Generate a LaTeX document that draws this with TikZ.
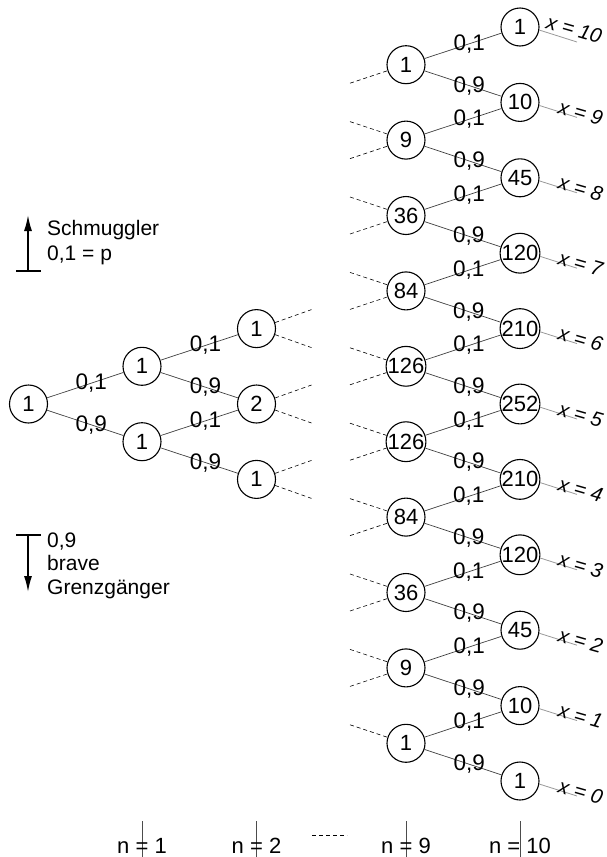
\documentclass[tikz,border=0pt]{standalone}
\usepackage{fontspec}
\setmainfont{Liberation Sans}
\usetikzlibrary{arrows.meta,calc}
\tikzset{
  knot/.style={circle,draw,line width=1.1pt,minimum size=38pt,inner sep=0pt,font=\fontsize{22}{26}\selectfont},
  edge/.style={draw=black!75,line width=0.7pt},
  lab/.style={pos=0.58,inner sep=0pt,font=\fontsize{22.5}{26}\selectfont},
  stub/.style={draw=black,line width=0.6pt,dash pattern=on 4pt off 3pt},
  tail/.style={draw=black!40,line width=0.8pt},
  xlab/.style={anchor=base west,rotate=-16,inner sep=0pt,font=\fontsize{20.5}{24}\selectfont\itshape},
  txt/.style={anchor=base west,inner sep=0pt,font=\fontsize{21}{25}\selectfont},
  nlab/.style={anchor=base,inner sep=0pt,font=\fontsize{22}{26}\selectfont},
  tick/.style={draw=black!70,line width=0.8pt},
  legend/.style={draw=black,line width=1.6pt},
}
\begin{document}
\begin{tikzpicture}[x=1pt,y=-1pt]
\useasboundingbox (0,0) rectangle (606,857);
% first levels
\node[knot] (r) at (28.5,404) {1};
\node[knot] (u1) at (142,366.3) {1};
\node[knot] (d1) at (142,441.7) {1};
\node[knot] (t2) at (256.5,328.6) {1};
\node[knot] (m2) at (256.5,404) {2};
\node[knot] (b2) at (256.5,479.4) {1};
\draw[edge] (r) -- node[lab]{0,1} (u1);
\draw[edge] (r) -- node[lab]{0,9} (d1);
\draw[edge] (u1) -- node[lab]{0,1} (t2);
\draw[edge] (u1) -- node[lab]{0,9} (m2);
\draw[edge] (d1) -- node[lab]{0,1} (m2);
\draw[edge] (d1) -- node[lab]{0,9} (b2);
\foreach \n in {t2,m2,b2}{
  \coordinate (\n-su) at ($(\n)+(55,-19)$);
  \coordinate (\n-sd) at ($(\n)+(55,19)$);
  \draw[stub] (\n.18) -- (\n-su);
  \draw[stub] (\n.-18) -- (\n-sd);
}
% level 9
\foreach \j/\v in {0/1,1/9,2/36,3/84,4/126,5/126,6/84,7/36,8/9,9/1}{
  \node[knot] (a\j) at (406,{404+(2*\j-9)*37.7}) {\v};
}
% level 10
\foreach \k/\v in {0/1,1/10,2/45,3/120,4/210,5/252,6/210,7/120,8/45,9/10,10/1}{
  \node[knot] (b\k) at (520,{404+(2*\k-10)*37.7}) {\v};
}
\foreach \j in {0,...,9}{
  \pgfmathtruncatemacro\kk{\j+1}
  \draw[edge] (a\j) -- node[lab]{0,1} (b\j);
  \draw[edge] (a\j) -- node[lab]{0,9} (b\kk);
}
\foreach \j in {1,...,9}{
  \coordinate (a\j-iu) at ($(a\j)+(-56,-18.5)$);
  \draw[stub] (a\j-iu) -- (a\j.162);
}
\foreach \j in {0,...,8}{
  \coordinate (a\j-id) at ($(a\j)+(-56,18.5)$);
  \draw[stub] (a\j-id) -- (a\j.198);
}
% tails and x labels
\foreach \k in {0,...,10}{
  \pgfmathtruncatemacro\xx{10-\k}
  \coordinate (e\k) at ($(b\k)+(57,15)$);
  \draw[tail] (b\k.-9) -- (e\k);
  \ifnum\k=0
    \node[xlab] (xl\k) at ($(b\k)+(25,1)$) {x = \xx};
  \else
    \node[xlab] (xl\k) at ($(b\k)+(37,11)$) {x = \xx};
  \fi
}
% legend
\coordinate (upbase) at (28,271);
\coordinate (uptip) at (28,215);
\coordinate (upbl) at (16,271);
\coordinate (upbr) at (41,271);
\draw[legend,-{Latex[length=16pt,width=8pt]}] (upbase) -- (uptip);
\draw[legend] (upbl) -- (upbr);
\node[txt] (s1) at (47,235) {Schmuggler};
\node[txt] (s2) at (47,260) {0,1 = p};
\coordinate (dnbase) at (28,535);
\coordinate (dntip) at (28,592);
\coordinate (dnbl) at (16,535);
\coordinate (dnbr) at (41,535);
\draw[legend,-{Latex[length=16pt,width=8pt]}] (dnbase) -- (dntip);
\draw[legend] (dnbl) -- (dnbr);
\node[txt] (g1) at (47,547) {0,9};
\node[txt] (g2) at (47,570) {brave};
\node[txt] (g3) at (47,594) {Grenzgänger};
% bottom axis labels
\foreach \p/\x/\t in {p1/142/1,p2/256.5/2,p9/406/9,p10/520/10}{
  \coordinate (\p-top) at (\x,821);
  \coordinate (\p-bot) at (\x,857);
  \draw[tick] (\p-top) -- (\p-bot);
  \node[nlab] (\p) at (\x,853) {n = \t};
}
\coordinate (dl) at (312,835);
\coordinate (dr) at (347,835);
\draw[stub] (dl) -- (dr);
\end{tikzpicture}
\end{document}
